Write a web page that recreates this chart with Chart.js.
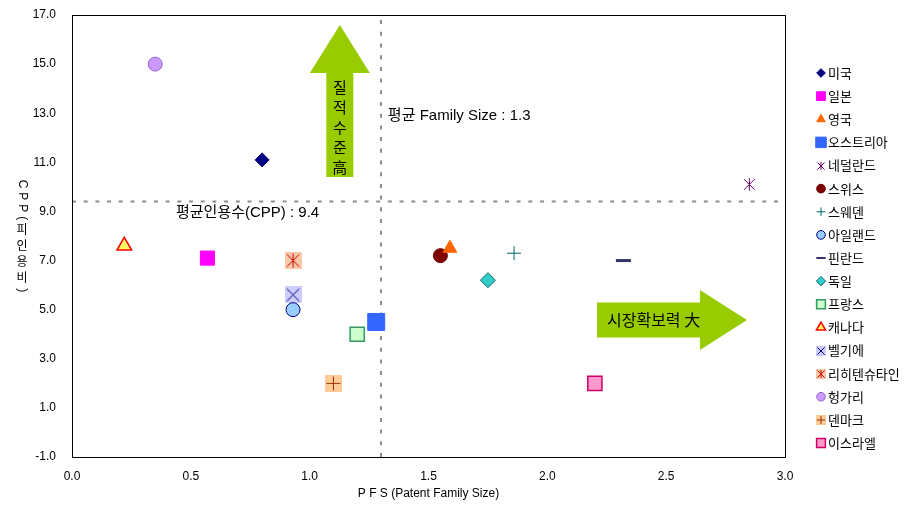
<!DOCTYPE html>
<html lang="ko">
<head>
<meta charset="utf-8">
<title>PFS - CPP</title>
<script src="https://cdn.jsdelivr.net/npm/chart.js@4.4.1/dist/chart.umd.min.js"></script>
<style>
  html, body { margin: 0; padding: 0; background: #fff; }
  #wrap { width: 922px; height: 521px; }
</style>
</head>
<body>
<div id="wrap"><canvas id="chart" width="922" height="521"></canvas></div>
<script>
// ---- data ----
const countries = ['미국', '일본', '영국', '오스트리아', '네덜란드', '스위스', '스웨덴', '아일랜드', '핀란드',
                   '독일', '프랑스', '캐나다', '벨기에', '리히텐슈타인', '헝가리', '덴마크', '이스라엘'];
const pfs = [0.80, 0.57, 1.59, 1.28, 2.85, 1.55, 1.86, 0.93, 2.32, 1.75, 1.20, 0.22, 0.93, 0.93, 0.35, 1.10, 2.20];
const cpp = [11.1, 7.1, 7.5, 4.5, 10.1, 7.2, 7.3, 5.0, 7.0, 6.2, 4.0, 7.6, 5.6, 7.0, 15.0, 2.0, 2.0];
const avgFamilySize = 1.3;
const avgCpp = 9.4;
const xTicks = [0.0, 0.5, 1.0, 1.5, 2.0, 2.5, 3.0];
const yTicks = [-1, 1, 3, 5, 7, 9, 11, 13, 15, 17];
const xAxisTitle = 'P F S (Patent Family Size)';
const yAxisTitle = 'CPP(피인용비)';

// ---- marker looks, same order as countries ----
const markers = [
  { style: 'rectRot',  r: 7,   fill: '#000080', line: '#000080' },
  { style: 'rect',     r: 10,  fill: '#FF00FF', line: '#FF00FF' },
  { style: 'triangle', r: 8,   fill: '#FF6600', line: '#FF6600' },
  { style: 'rect',     r: 12,  fill: '#3366FF', line: '#3366FF' },
  { glyph: 'asterisk', size: 15, bg: null,      line: '#660066' },
  { style: 'circle',   r: 7,   fill: '#800000', line: '#660000' },
  { style: 'cross',    r: 7,   fill: '#006666', line: '#006666' },
  { style: 'circle',   r: 7,   fill: '#99CCFF', line: '#000080' },
  { style: 'line',     r: 7.5, fill: '#333366', line: '#333366', w: 3 },
  { style: 'rectRot',  r: 7.5, fill: '#33CCCC', line: '#006666' },
  { style: 'rect',     r: 10,  fill: '#CCFFCC', line: '#339966', w: 1.5 },
  { style: 'triangle', r: 8.5, fill: '#FFFF66', line: '#FF0000', w: 1.5 },
  { glyph: 'x',        size: 17, bg: '#CCCCFF', line: '#000080' },
  { glyph: 'asterisk', size: 17, bg: '#F8C8A8', line: '#CC0000' },
  { style: 'circle',   r: 7,   fill: '#CC99FF', line: '#9966CC' },
  { glyph: 'plus',     size: 17, bg: '#FFCC99', line: '#993300' },
  { style: 'rect',     r: 10,  fill: '#FF99CC', line: '#CC0066', w: 1.5 },
];

const GREEN = '#99CC00';
const TICK_FONT = '"Liberation Sans Narrow", "Liberation Sans", Arial, sans-serif';
const KO_FONT = '"Liberation Sans", "Noto Sans CJK KR", sans-serif';

function glyphMarker(size, bg, glyph, color) {
  const c = document.createElement('canvas');
  c.width = c.height = size;
  const g = c.getContext('2d');
  if (bg) { g.fillStyle = bg; g.fillRect(0, 0, size, size); }
  const m = size / 2, r = size * 0.36;
  g.strokeStyle = color;
  g.lineWidth = 1;
  g.beginPath();
  if (glyph === 'x' || glyph === 'asterisk') {
    g.moveTo(m - r, m - r); g.lineTo(m + r, m + r);
    g.moveTo(m + r, m - r); g.lineTo(m - r, m + r);
  }
  if (glyph === 'asterisk' || glyph === 'plus') {
    g.moveTo(m, m - r * 1.15); g.lineTo(m, m + r * 1.15);
  }
  if (glyph === 'plus') {
    g.moveTo(m - r * 1.15, m); g.lineTo(m + r * 1.15, m);
  }
  g.stroke();
  return c;
}

const plotImages = markers.map(mk => mk.glyph ? glyphMarker(mk.size, mk.bg, mk.glyph, mk.line) : null);
const legendImages = markers.map(mk => mk.glyph ? glyphMarker(10, mk.bg, mk.glyph, mk.line) : null);

const countryDatasets = countries.map((name, i) => {
  const mk = markers[i];
  return {
    label: name,
    data: [{ x: pfs[i], y: cpp[i] }],
    pointStyle: plotImages[i] || mk.style,
    pointRadius: mk.r || mk.size / 2,
    backgroundColor: mk.fill || mk.line,
    borderColor: mk.line,
    borderWidth: mk.w || 1,
  };
});

const refLine = { showLine: true, pointRadius: 0, borderColor: '#8C8C8C', borderWidth: 2, borderDash: [4, 7.7], fill: false };
const refDatasets = [
  { ...refLine, label: 'avgPFS', data: [{ x: avgFamilySize, y: yTicks[0] }, { x: avgFamilySize, y: yTicks[yTicks.length - 1] }] },
  { ...refLine, label: 'avgCPP', data: [{ x: xTicks[0], y: avgCpp }, { x: xTicks[xTicks.length - 1], y: avgCpp }] },
];

// frame around the plot area
const framePlugin = {
  id: 'frame',
  afterDraw(chart) {
    const { ctx, chartArea: a } = chart;
    ctx.save();
    ctx.strokeStyle = '#000';
    ctx.lineWidth = 1;
    ctx.strokeRect(Math.round(a.left) + 0.5, Math.round(a.top) + 0.5, Math.round(a.right - a.left), Math.round(a.bottom - a.top));
    ctx.restore();
  }
};

// arrows and average labels
const notesPlugin = {
  id: 'notes',
  beforeDatasetsDraw(chart) {
    const { ctx } = chart;
    const xs = chart.scales.x, ys = chart.scales.y;
    ctx.save();
    ctx.fillStyle = GREEN;

    // up arrow
    const ux = xs.getPixelForValue(1.127);
    const uTop = ys.getPixelForValue(16.59), uBase = ys.getPixelForValue(14.64), uBot = ys.getPixelForValue(10.40);
    ctx.beginPath();
    ctx.moveTo(ux, uTop);
    ctx.lineTo(ux + 30, uBase);
    ctx.lineTo(ux + 13.5, uBase);
    ctx.lineTo(ux + 13.5, uBot);
    ctx.lineTo(ux - 13.5, uBot);
    ctx.lineTo(ux - 13.5, uBase);
    ctx.lineTo(ux - 30, uBase);
    ctx.closePath();
    ctx.fill();

    // right arrow
    const ry = ys.getPixelForValue(4.58);
    const rL = xs.getPixelForValue(2.209), rBase = xs.getPixelForValue(2.642), rTip = xs.getPixelForValue(2.84);
    ctx.beginPath();
    ctx.moveTo(rTip, ry);
    ctx.lineTo(rBase, ry + 30);
    ctx.lineTo(rBase, ry + 17.5);
    ctx.lineTo(rL, ry + 17.5);
    ctx.lineTo(rL, ry - 17.5);
    ctx.lineTo(rBase, ry - 17.5);
    ctx.lineTo(rBase, ry - 30);
    ctx.closePath();
    ctx.fill();

    ctx.fillStyle = '#000';
    ctx.textBaseline = 'middle';
    ctx.font = '15px "Noto Sans CJK KR", sans-serif';
    ctx.textAlign = 'center';
    Array.from('질적수준高').forEach((ch, k) => ctx.fillText(ch, ux, ys.getPixelForValue(14.07) + k * 20));
    ctx.font = '16px "Noto Sans CJK KR", sans-serif';
    ctx.textAlign = 'left';
    ctx.fillText('시장확보력 大', xs.getPixelForValue(2.251), ry);

    ctx.font = '15px ' + KO_FONT;
    ctx.fillText('평균 Family Size : ' + avgFamilySize, xs.getPixelForValue(1.329), ys.getPixelForValue(12.89));
    ctx.fillText('평균인용수(CPP) : ' + avgCpp, xs.getPixelForValue(0.4375), ys.getPixelForValue(8.94));
    ctx.restore();
  }
};

// stacked y title: latin turned, hangul upright
const yTitlePlugin = {
  id: 'yTitle',
  afterDraw(chart) {
    const { ctx, chartArea: a } = chart;
    ctx.save();
    ctx.font = '12px ' + KO_FONT;
    ctx.fillStyle = '#000';
    ctx.textAlign = 'center';
    ctx.textBaseline = 'middle';
    const gap = 4;
    const chars = Array.from(yAxisTitle).map(ch => {
      const hangul = /[\uAC00-\uD7A3]/.test(ch);
      return { ch, hangul, adv: hangul ? 12 : ctx.measureText(ch).width };
    });
    const total = chars.reduce((s, c) => s + c.adv, 0) + gap * (chars.length - 1);
    let y = (a.top + a.bottom) / 2 - total / 2;
    const x = 22;
    chars.forEach(c => {
      const cy = y + c.adv / 2;
      if (c.hangul) {
        ctx.fillText(c.ch, x, cy);
      } else {
        ctx.save();
        ctx.translate(x, cy);
        ctx.rotate(Math.PI / 2);
        ctx.fillText(c.ch, 0, 0);
        ctx.restore();
      }
      y += c.adv + gap;
    });
    ctx.restore();
  }
};

// legend on the right
const legendPlugin = {
  id: 'sideLegend',
  afterDraw(chart) {
    const { ctx } = chart;
    const drawPoint = Chart.helpers && Chart.helpers.drawPoint;
    ctx.save();
    ctx.font = '13px "Noto Sans CJK KR", sans-serif';
    ctx.textBaseline = 'middle';
    ctx.textAlign = 'left';
    countries.forEach((name, i) => {
      const y = 73 + i * 23.125;
      const mk = markers[i];
      const mx = 821;
      if (legendImages[i]) {
        ctx.drawImage(legendImages[i], mx - 5, Math.round(y) - 5);
      } else if (drawPoint) {
        ctx.fillStyle = mk.fill;
        ctx.strokeStyle = mk.line;
        ctx.lineWidth = mk.w ? Math.min(mk.w, 2) : 1;
        drawPoint(ctx, { pointStyle: mk.style, radius: mk.r * 0.62, rotation: 0, borderWidth: 1 }, mx, y);
      }
      ctx.fillStyle = '#000';
      ctx.fillText(name, 828, y);
    });
    ctx.restore();
  }
};

new Chart(document.getElementById('chart'), {
  type: 'scatter',
  data: { datasets: [...countryDatasets, ...refDatasets] },
  options: {
    responsive: false,
    animation: false,
    devicePixelRatio: 1,
    events: [],
    layout: { padding: { top: 15, right: 137, bottom: 0, left: 0 } },
    plugins: { legend: { display: false }, tooltip: { enabled: false } },
    scales: {
      x: {
        type: 'linear',
        min: xTicks[0],
        max: xTicks[xTicks.length - 1],
        afterBuildTicks: s => { s.ticks = xTicks.map(v => ({ value: v })); },
        afterFit: s => { s.height = 64; },
        grid: { display: false, drawTicks: false },
        border: { display: false },
        ticks: { padding: 12, color: '#000', font: { family: TICK_FONT, size: 12 }, callback: v => Number(v).toFixed(1), maxRotation: 0 },
        title: { display: true, text: xAxisTitle, color: '#000', font: { family: TICK_FONT, size: 12 }, padding: { top: 0, bottom: 20 } },
      },
      y: {
        type: 'linear',
        min: yTicks[0],
        max: yTicks[yTicks.length - 1],
        afterBuildTicks: s => { s.ticks = yTicks.map(v => ({ value: v })); },
        afterFit: s => { s.width = 72; s.paddingTop = 0; s.paddingBottom = 0; },
        grid: { display: false, drawTicks: false },
        border: { display: false },
        ticks: { padding: 16, color: '#000', font: { family: TICK_FONT, size: 12 }, callback: v => Number(v).toFixed(1) },
      },
    },
  },
  plugins: [notesPlugin, framePlugin, yTitlePlugin, legendPlugin],
});
</script>
</body>
</html>
